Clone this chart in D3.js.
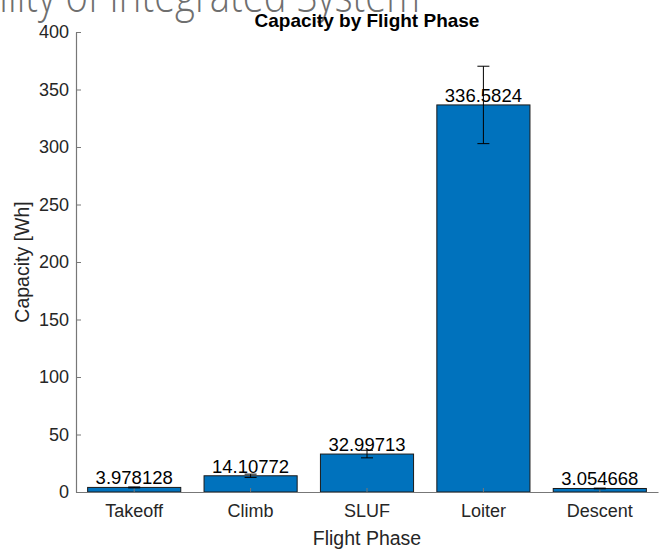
<!DOCTYPE html>
<html>
<head>
<meta charset="utf-8">
<script src="https://cdn.jsdelivr.net/npm/d3@7"></script>
<style>
  html, body { margin: 0; padding: 0; background: #fff; }
  svg { display: block; }
</style>
</head>
<body>
<svg id="chart" width="664" height="552"></svg>
<script>
// Capacity required in each flight phase, with symmetric error bars
const phases = ["Takeoff", "Climb", "SLUF", "Loiter", "Descent"];
const capacity = [3.978128, 14.10772, 32.99713, 336.5824, 3.054668];
const errors = [0.40, 1.41, 3.30, 33.66, 0.31];
const valueLabels = ["3.978128", "14.10772", "32.99713", "336.5824", "3.054668"];
const yTicks = [0, 50, 100, 150, 200, 250, 300, 350, 400];

const W = 664, H = 552;
const margin = { left: 76, right: 6, top: 32, bottom: 60 };
const svg = d3.select("#chart");

// Heading of the slide behind the figure, partly off the top edge
svg.append("text")
  .attr("transform", "translate(420,12) scale(0.83,1)")
  .attr("text-anchor", "end")
  .attr("font-family", "'Open Sans', 'Lato', sans-serif")
  .attr("font-weight", 300)
  .attr("font-size", 46)
  .attr("fill", "#6f6f6f")
  .text("Feasibility of Integrated System");

const x = d3.scaleBand()
  .domain(phases)
  .range([margin.left, W - margin.right])
  .paddingInner(0.2)
  .paddingOuter(0.1);

const y = d3.scaleLinear()
  .domain([0, 400])
  .range([H - margin.bottom, margin.top]);

const font = "'Liberation Sans', Arial, Helvetica, sans-serif";
const ink = "#262626";

// Bars
svg.append("g").selectAll("rect")
  .data(phases)
  .join("rect")
  .attr("x", d => x(d))
  .attr("width", x.bandwidth())
  .attr("y", (d, i) => y(capacity[i]))
  .attr("height", (d, i) => y(0) - y(capacity[i]))
  .attr("fill", "#0072BD")
  .attr("stroke", "#1a1a1a")
  .attr("stroke-width", 1);

// Y axis (ticks pointing into the plot)
const yAxis = d3.axisLeft(y).tickValues(yTicks).tickSizeInner(-5).tickSizeOuter(0).tickPadding(7);
const gy = svg.append("g")
  .attr("transform", `translate(${margin.left},0)`)
  .call(yAxis);
gy.select(".domain").attr("stroke", "#777").attr("stroke-width", 1.2);
gy.selectAll(".tick line").attr("stroke", "#777");
gy.selectAll(".tick text").attr("font-family", font).attr("font-size", 18).attr("fill", ink);

// X axis
const xAxis = d3.axisBottom(x).tickSizeInner(-4).tickSizeOuter(0).tickPadding(12);
const gx = svg.append("g")
  .attr("transform", `translate(0,${y(0)})`)
  .call(xAxis);
gx.select(".domain").attr("stroke", "#777").attr("stroke-width", 1.2);
gx.selectAll(".tick line").attr("stroke", "#777");
gx.selectAll(".tick text").attr("font-family", font).attr("font-size", 18).attr("fill", ink);

// Error bars
const capW = 6;
const eb = svg.append("g").selectAll("g")
  .data(phases)
  .join("g")
  .attr("stroke", "#000")
  .attr("stroke-width", 1);
eb.append("line")
  .attr("x1", d => x(d) + x.bandwidth() / 2)
  .attr("x2", d => x(d) + x.bandwidth() / 2)
  .attr("y1", (d, i) => y(capacity[i] - errors[i]))
  .attr("y2", (d, i) => y(capacity[i] + errors[i]));
eb.append("line")
  .attr("x1", d => x(d) + x.bandwidth() / 2 - capW)
  .attr("x2", d => x(d) + x.bandwidth() / 2 + capW)
  .attr("y1", (d, i) => y(capacity[i] - errors[i]))
  .attr("y2", (d, i) => y(capacity[i] - errors[i]));
eb.append("line")
  .attr("x1", d => x(d) + x.bandwidth() / 2 - capW)
  .attr("x2", d => x(d) + x.bandwidth() / 2 + capW)
  .attr("y1", (d, i) => y(capacity[i] + errors[i]))
  .attr("y2", (d, i) => y(capacity[i] + errors[i]));

// Value labels above each bar
svg.append("g").selectAll("text")
  .data(phases)
  .join("text")
  .attr("x", d => x(d) + x.bandwidth() / 2)
  .attr("y", (d, i) => y(capacity[i]) - 3)
  .attr("text-anchor", "middle")
  .attr("font-family", font)
  .attr("font-size", 18.5)
  .attr("fill", "#000")
  .text((d, i) => valueLabels[i]);

// Title and axis labels
svg.append("text")
  .attr("x", (margin.left + W - margin.right) / 2).attr("y", 27)
  .attr("text-anchor", "middle")
  .attr("font-family", font).attr("font-weight", "bold").attr("font-size", 19)
  .attr("fill", "#000")
  .text("Capacity by Flight Phase");

svg.append("text")
  .attr("x", (margin.left + W - margin.right) / 2).attr("y", 545)
  .attr("text-anchor", "middle")
  .attr("font-family", font).attr("font-size", 19.5)
  .attr("fill", ink)
  .text("Flight Phase");

svg.append("text")
  .attr("transform", `translate(29,${(margin.top + H - margin.bottom) / 2}) rotate(-90)`)
  .attr("text-anchor", "middle")
  .attr("font-family", font).attr("font-size", 19.5)
  .attr("fill", ink)
  .text("Capacity [Wh]");
</script>
</body>
</html>
